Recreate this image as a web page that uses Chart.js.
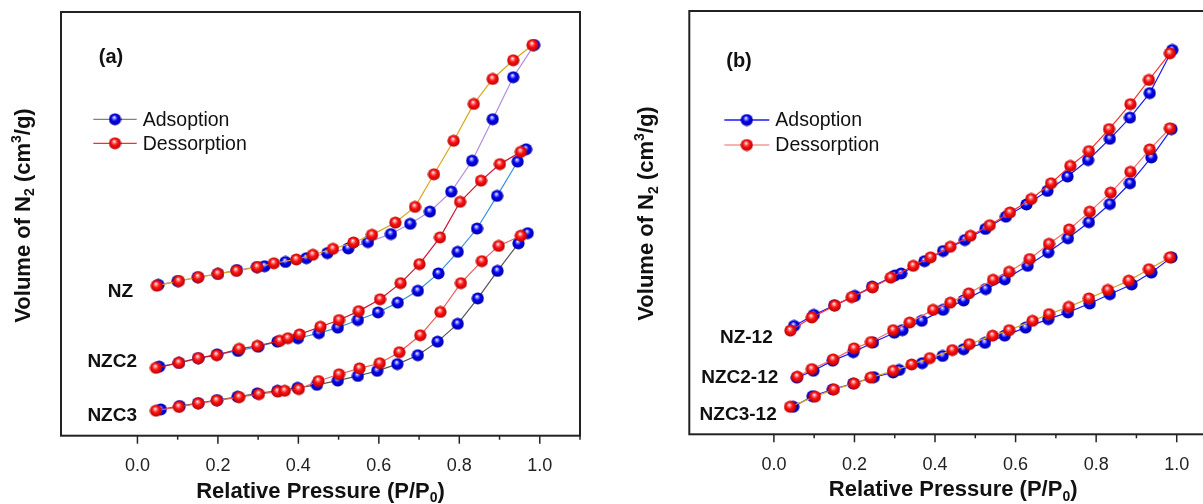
<!DOCTYPE html>
<html>
<head>
<meta charset="utf-8">
<script src="https://cdn.jsdelivr.net/npm/chart.js@4.4.1/dist/chart.umd.min.js"></script>
<style>
  html, body { margin: 0; padding: 0; background: #fff; overflow: hidden; }
  #wrap { position: relative; width: 1203px; height: 504px; overflow: hidden; }
  canvas { position: absolute; top: 0; }
  #chartA { left: 0; }
  #chartB { left: 600px; }
</style>
</head>
<body>
<div id="wrap">
  <canvas id="chartA" width="600" height="504"></canvas>
  <canvas id="chartB" width="640" height="504"></canvas>
</div>
<script>
// relative pressure ticks (P/P0)
var xTicks = [0.0, 0.1, 0.2, 0.3, 0.4, 0.5, 0.6, 0.7, 0.8, 0.9, 1.0, 1.1];

// ---- (a) NZ, NZC2, NZC3 : volume in stacked units ----
var nzAdsP = [0.052, 0.100, 0.150, 0.200, 0.247, 0.297, 0.316, 0.368, 0.420, 0.472, 0.524, 0.573, 0.630, 0.678, 0.727, 0.780, 0.832, 0.883, 0.934, 0.986];
var nzAdsV = [35.6, 36.5, 37.4, 38.2, 39.1, 39.8, 40.0, 41.0, 41.9, 43.1, 44.2, 45.7, 47.6, 50.0, 52.9, 57.6, 64.9, 74.7, 84.6, 92.2];
var nzDesP = [0.048, 0.103, 0.151, 0.200, 0.246, 0.298, 0.339, 0.395, 0.436, 0.486, 0.537, 0.583, 0.641, 0.690, 0.737, 0.786, 0.836, 0.883, 0.934, 0.982];
var nzDesV = [35.4, 36.5, 37.4, 38.2, 38.9, 39.8, 40.7, 41.6, 42.7, 44.1, 45.6, 47.4, 50.3, 54.0, 61.7, 69.6, 78.3, 84.2, 88.6, 92.2];

var nzc2AdsP = [0.054, 0.103, 0.151, 0.198, 0.250, 0.300, 0.348, 0.399, 0.451, 0.498, 0.548, 0.598, 0.647, 0.697, 0.748, 0.796, 0.844, 0.894, 0.945, 0.966];
var nzc2AdsV = [16.3, 17.2, 18.3, 19.2, 20.0, 21.0, 22.2, 23.0, 24.2, 25.5, 27.3, 29.1, 31.4, 34.2, 38.3, 43.4, 48.9, 56.6, 64.7, 67.6];
var nzc2DesP = [0.046, 0.103, 0.151, 0.197, 0.253, 0.298, 0.354, 0.374, 0.403, 0.455, 0.501, 0.550, 0.603, 0.654, 0.701, 0.752, 0.802, 0.854, 0.901, 0.953];
var nzc2DesV = [16.0, 17.2, 18.3, 19.0, 20.5, 21.2, 22.4, 23.0, 23.9, 25.7, 27.3, 29.4, 32.2, 36.0, 40.5, 46.8, 55.2, 60.2, 64.1, 67.0];

var nzc3AdsP = [0.058, 0.105, 0.151, 0.198, 0.249, 0.298, 0.348, 0.398, 0.446, 0.498, 0.548, 0.596, 0.646, 0.697, 0.746, 0.796, 0.846, 0.895, 0.947, 0.970];
var nzc3AdsV = [6.2, 7.0, 7.7, 8.4, 9.2, 10.0, 10.6, 11.3, 12.0, 13.0, 14.1, 15.3, 16.9, 19.0, 22.2, 26.4, 32.4, 38.9, 45.4, 47.8];
var nzc3DesP = [0.046, 0.103, 0.151, 0.197, 0.253, 0.302, 0.349, 0.366, 0.401, 0.450, 0.501, 0.552, 0.602, 0.651, 0.703, 0.753, 0.804, 0.856, 0.898, 0.953];
var nzc3DesV = [5.9, 6.8, 7.6, 8.3, 9.1, 9.8, 10.4, 10.6, 11.0, 12.9, 14.5, 15.9, 17.1, 19.7, 23.7, 29.2, 36.0, 41.2, 44.8, 47.2];

// ---- (b) samples after 12 h ----
var nz12AdsP = [0.050, 0.099, 0.150, 0.201, 0.244, 0.300, 0.316, 0.374, 0.420, 0.474, 0.525, 0.576, 0.627, 0.679, 0.729, 0.780, 0.834, 0.884, 0.933, 0.989];
var nz12AdsV = [25.6, 28.2, 30.5, 32.7, 34.9, 37.5, 38.0, 40.9, 43.3, 45.9, 48.5, 51.4, 54.3, 57.5, 60.9, 64.8, 69.8, 74.8, 80.6, 90.8];
var nz12DesP = [0.041, 0.094, 0.151, 0.193, 0.245, 0.290, 0.346, 0.389, 0.438, 0.488, 0.536, 0.586, 0.639, 0.688, 0.736, 0.782, 0.832, 0.885, 0.931, 0.983];
var nz12DesV = [24.5, 27.6, 30.4, 32.4, 34.7, 37.0, 39.8, 41.8, 44.3, 46.9, 49.4, 52.4, 55.6, 59.3, 63.4, 66.9, 72.1, 78.0, 83.7, 90.0];

var nzc212AdsP = [0.057, 0.098, 0.146, 0.197, 0.246, 0.299, 0.319, 0.367, 0.420, 0.471, 0.526, 0.573, 0.630, 0.681, 0.730, 0.782, 0.834, 0.884, 0.937, 0.987];
var nzc212AdsV = [13.4, 15.0, 17.4, 19.4, 21.7, 24.0, 24.6, 26.8, 29.4, 31.6, 34.3, 36.6, 39.8, 43.0, 46.3, 50.1, 54.4, 59.3, 65.4, 72.1];
var nzc212DesP = [0.058, 0.094, 0.147, 0.199, 0.241, 0.296, 0.337, 0.395, 0.438, 0.484, 0.544, 0.584, 0.635, 0.683, 0.733, 0.784, 0.836, 0.885, 0.933, 0.983];
var nzc212DesV = [13.6, 15.4, 17.7, 20.3, 21.8, 24.6, 26.4, 29.4, 31.1, 33.3, 36.5, 38.4, 41.4, 45.0, 48.4, 52.6, 57.1, 62.0, 67.3, 72.3];

var nzc312AdsP = [0.048, 0.096, 0.146, 0.197, 0.248, 0.296, 0.311, 0.368, 0.419, 0.471, 0.524, 0.573, 0.625, 0.681, 0.730, 0.784, 0.834, 0.888, 0.937, 0.987];
var nzc312AdsV = [6.5, 9.0, 10.6, 12.0, 13.5, 14.6, 15.2, 16.8, 18.5, 20.1, 21.6, 23.3, 25.2, 27.2, 28.8, 30.9, 33.1, 35.4, 38.2, 41.8];
var nzc312DesP = [0.040, 0.102, 0.149, 0.199, 0.240, 0.296, 0.342, 0.387, 0.443, 0.485, 0.543, 0.584, 0.642, 0.683, 0.732, 0.782, 0.829, 0.881, 0.931, 0.983];
var nzc312DesV = [6.5, 8.9, 10.6, 12.0, 13.4, 15.0, 16.5, 18.0, 19.9, 21.3, 23.3, 24.6, 26.8, 28.4, 30.1, 32.1, 34.1, 36.3, 39.0, 41.8];

var FONT = '"Liberation Sans", Arial, Helvetica, sans-serif';

// glossy ball markers
function sphere(base, dark, light) {
  var c = document.createElement('canvas');
  c.width = 13; c.height = 13;
  var g = c.getContext('2d');
  var grad = g.createRadialGradient(5.6, 4.4, 0.2, 6.5, 6.5, 6.6);
  grad.addColorStop(0, '#ffffff');
  grad.addColorStop(0.15, light);
  grad.addColorStop(0.45, base);
  grad.addColorStop(1, dark);
  g.fillStyle = grad;
  g.beginPath();
  g.arc(6.5, 6.5, 6.1, 0, Math.PI * 2);
  g.fill();
  return c;
}
var blueBall = sphere('#0000f2', '#00009a', '#9a9aff');
var redBall = sphere('#ff1212', '#b00000', '#ffa0a0');

function series(px, vals, color, ball, order) {
  return {
    data: px.map(function (p, i) { return { x: p, y: vals[i] }; }),
    showLine: true,
    borderColor: color,
    borderWidth: 1.2,
    pointStyle: ball,
    pointRadius: 5,
    order: order,
    clip: false
  };
}

function isMajor(v) { return Math.round(v * 10) % 2 === 0; }

// text with sub/superscripts, centred on (cx, cy)
function richText(ctx, parts, cx, cy, size, rotate) {
  ctx.save();
  ctx.translate(cx, cy);
  if (rotate) ctx.rotate(-Math.PI / 2);
  var small = Math.round(size * 0.62);
  var total = 0;
  var widths = parts.map(function (p) {
    ctx.font = 'bold ' + (p.sub || p.sup ? small : size) + 'px ' + FONT;
    var w = ctx.measureText(p.t).width;
    total += w;
    return w;
  });
  var x = -total / 2;
  ctx.fillStyle = '#111';
  ctx.textAlign = 'left';
  ctx.textBaseline = 'middle';
  parts.forEach(function (p, i) {
    ctx.font = 'bold ' + (p.sub || p.sup ? small : size) + 'px ' + FONT;
    var dy = p.sub ? size * 0.32 : (p.sup ? -size * 0.3 : 0);
    ctx.fillText(p.t, x, dy);
    x += widths[i];
  });
  ctx.restore();
}

function legendRow(ctx, x0, x1, y, color, ball, label) {
  ctx.strokeStyle = color;
  ctx.lineWidth = 1.3;
  ctx.beginPath();
  ctx.moveTo(x0, y);
  ctx.lineTo(x1, y);
  ctx.stroke();
  ctx.drawImage(ball, (x0 + x1) / 2 - 6.5, y - 6.5);
  ctx.font = '19.5px ' + FONT;
  ctx.fillStyle = '#111';
  ctx.textAlign = 'left';
  ctx.textBaseline = 'middle';
  ctx.fillText(label, x1 + 6, y + 1);
}

// frame, tick marks, titles, legend and sample names
var panelDeco = {
  id: 'panelDeco',
  afterDraw: function (chart, args, o) {
    var ctx = chart.ctx, a = chart.chartArea, xs = chart.scales.x;
    ctx.save();
    ctx.strokeStyle = '#222';
    ctx.lineWidth = 1.5;
    xTicks.forEach(function (v) {
      var px = xs.getPixelForValue(v);
      ctx.beginPath();
      ctx.moveTo(px, a.bottom);
      ctx.lineTo(px, a.bottom + (isMajor(v) ? 8 : 4));
      ctx.stroke();
    });
    ctx.lineWidth = 2;
    ctx.strokeRect(a.left, a.top, a.right - a.left, a.bottom - a.top);

    ctx.fillStyle = '#111';
    ctx.font = 'bold 20px ' + FONT;
    ctx.textAlign = 'center';
    ctx.textBaseline = 'middle';
    ctx.fillText(o.tag, o.tagX, o.tagY);

    ctx.font = 'bold 19px ' + FONT;
    ctx.textAlign = 'right';
    o.names.forEach(function (n) { ctx.fillText(n[0], n[1], n[2]); });

    legendRow(ctx, o.legX0, o.legX1, o.legY[0], o.legColors[0], blueBall, 'Adsoption');
    legendRow(ctx, o.legX0, o.legX1, o.legY[1], o.legColors[1], redBall, 'Dessorption');

    richText(ctx, [{ t: 'Relative Pressure (P/P' }, { t: '0', sub: true }, { t: ')' }],
      (a.left + a.right) / 2, o.xTitleY, 22, false);
    richText(ctx, [{ t: 'Volume of N' }, { t: '2', sub: true }, { t: ' (cm' }, { t: '3', sup: true }, { t: '/g)' }],
      o.yTitleX, o.yTitleY, 22, true);
    ctx.restore();
  }
};

function makeChart(id, datasets, xMin, pad, axisH, deco) {
  return new Chart(document.getElementById(id), {
    type: 'scatter',
    data: { datasets: datasets },
    options: {
      responsive: false,
      animation: false,
      devicePixelRatio: 1,
      layout: { padding: pad },
      plugins: { legend: { display: false }, tooltip: { enabled: false }, panelDeco: deco },
      scales: {
        x: {
          type: 'linear', min: xMin, max: 1.1,
          afterBuildTicks: function (s) { s.ticks = xTicks.map(function (v) { return { value: v }; }); },
          afterFit: function (s) { s.height = axisH; },
          grid: { display: false },
          border: { display: false },
          ticks: {
            autoSkip: false, maxRotation: 0, padding: 12, color: '#222',
            font: { family: FONT, size: 18 },
            callback: function (v) { return isMajor(v) ? v.toFixed(1) : ''; }
          }
        },
        y: { min: 0, max: 100, display: false }
      }
    },
    plugins: [panelDeco]
  });
}

makeChart('chartA', [
  series(nzDesP, nzDesV, '#d9a521', redBall, 0),
  series(nzc2DesP, nzc2DesV, '#cc1530', redBall, 0),
  series(nzc3DesP, nzc3DesV, '#f25858', redBall, 0),
  series(nzAdsP, nzAdsV, '#b58be0', blueBall, 1),
  series(nzc2AdsP, nzc2AdsV, '#3b8fe0', blueBall, 1),
  series(nzc3AdsP, nzc3AdsV, '#555555', blueBall, 1)
], -0.19, { left: 61, right: 20, top: 12, bottom: 0 }, 68.3, {
  tag: '(a)', tagX: 111, tagY: 57,
  names: [['NZ', 133, 291.5], ['NZC2', 137, 362.2], ['NZC3', 137, 415.8]],
  legX0: 93.3, legX1: 136.7, legY: [119.3, 143.3], legColors: ['#808080', '#ff2a2a'],
  xTitleY: 491.5, yTitleX: 23.5, yTitleY: 215.5
});

makeChart('chartB', [
  series(nz12DesP, nz12DesV, '#ff2a2a', redBall, 0),
  series(nzc212DesP, nzc212DesV, '#ff6a6a', redBall, 0),
  series(nzc312DesP, nzc312DesV, '#d9a521', redBall, 0),
  series(nz12AdsP, nz12AdsV, '#1a1aff', blueBall, 1),
  series(nzc212AdsP, nzc212AdsV, '#1a1aff', blueBall, 1),
  series(nzc312AdsP, nzc312AdsV, '#1a1aff', blueBall, 1)
], -0.21, { left: 89.3, right: 23, top: 11, bottom: 0 }, 69.7, {
  tag: '(b)', tagX: 139, tagY: 61.7,
  names: [['NZ-12', 172.7, 338], ['NZC2-12', 178.3, 377.5], ['NZC3-12', 176.7, 414.7]],
  legX0: 124.3, legX1: 169.3, legY: [120, 145], legColors: ['#1a1aff', '#f29a9a'],
  xTitleY: 490, yTitleX: 47, yTitleY: 213.5
});
</script>
</body>
</html>
